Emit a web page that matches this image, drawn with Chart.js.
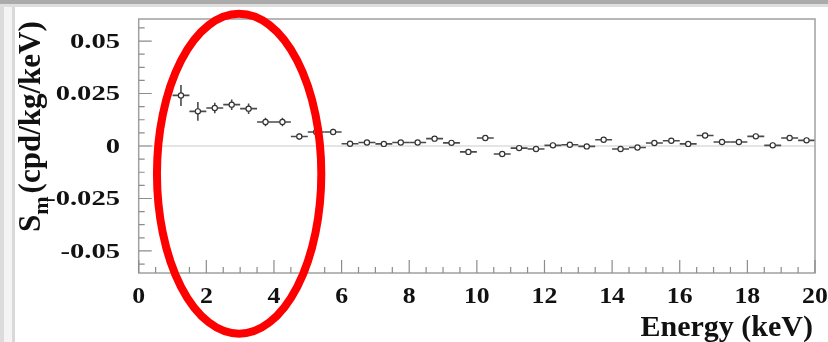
<!DOCTYPE html>
<html>
<head>
<meta charset="utf-8">
<script src="https://cdn.jsdelivr.net/npm/chart.js@4.4.1/dist/chart.umd.min.js"></script>
<style>
  html, body { margin: 0; padding: 0; background: #fff; }
  #wrap { position: relative; width: 828px; height: 342px; overflow: hidden; }
  #wrap canvas { position: absolute; left: 0; top: 0; }
  .edge { position: absolute; }
</style>
</head>
<body>
<div id="wrap">
  <div class="edge" style="left:0;top:0;width:828px;height:4px;background:#ababab"></div>
  <div class="edge" style="left:0;top:4px;width:828px;height:3px;background:#dedede"></div>
  <div class="edge" style="left:0;top:7px;width:4px;height:335px;background:#dcdcdc"></div>
  <div class="edge" style="left:4px;top:7px;width:8px;height:335px;background:#f4f4f4"></div>
  <div class="edge" style="left:12px;top:7px;width:3px;height:335px;background:#d9d9d9"></div>
  <canvas id="chart" width="828" height="342"></canvas>
</div>
<script>
// bin centres (keV), 0.5 keV wide bins
const energy = [1.25, 1.75, 2.25, 2.75, 3.25, 3.75, 4.25, 4.75, 5.25, 5.75,
                6.25, 6.75, 7.25, 7.75, 8.25, 8.75, 9.25, 9.75, 10.25, 10.75,
                11.25, 11.75, 12.25, 12.75, 13.25, 13.75, 14.25, 14.75, 15.25, 15.75,
                16.25, 16.75, 17.25, 17.75, 18.25, 18.75, 19.25, 19.75];
// modulation amplitude Sm (cpd/kg/keV)
const sm = [0.0241, 0.0165, 0.0181, 0.0197, 0.0178, 0.0114, 0.0114, 0.0045, 0.0067, 0.0067,
            0.0011, 0.0017, 0.0010, 0.0017, 0.0017, 0.0035, 0.0015, -0.0028, 0.0038, -0.0038,
            -0.0010, -0.0014, 0.0003, 0.0006, -0.0002, 0.0030, -0.0014, -0.0007, 0.0014, 0.0025,
            0.0010, 0.0050, 0.0019, 0.0019, 0.0046, 0.0003, 0.0038, 0.0027];
const smErr = [0.0050, 0.0045, 0.0025, 0.0025, 0.0025, 0.0020, 0.0020, 0.0015, 0.0015, 0.0015,
               0.0012, 0.0012, 0.0012, 0.0012, 0.0012, 0.0012, 0.0012, 0.0012, 0.0012, 0.0012,
               0.0012, 0.0012, 0.0012, 0.0012, 0.0012, 0.0012, 0.0012, 0.0012, 0.0012, 0.0012,
               0.0012, 0.0012, 0.0012, 0.0012, 0.0012, 0.0012, 0.0012, 0.0012];
const binHalfWidth = 0.25;

const xTicks = [0, 2, 4, 6, 8, 10, 12, 14, 16, 18, 20];
const xTickLabels = ['0', '2', '4', '6', '8', '10', '12', '14', '16', '18', '20'];
const yTicks = [-0.05, -0.025, 0, 0.025, 0.05];
const yTickLabels = ['-0.05', '-0.025', '0', '0.025', '0.05'];

// highlight ring around the low-energy bins (data units)
const ring = { x: 2.97, y: -0.0132, rx: 2.43, ry: 0.0762 };

const serif = '"Liberation Serif", "Times New Roman", serif';

const errorBars = {
  id: 'errorBars',
  beforeDatasetsDraw(chart) {
    const { ctx, scales: { x, y }, chartArea: a } = chart;
    ctx.save();
    // zero line
    ctx.strokeStyle = '#dcdcdc';
    ctx.lineWidth = 1.5;
    ctx.beginPath();
    ctx.moveTo(a.left, y.getPixelForValue(0));
    ctx.lineTo(a.right, y.getPixelForValue(0));
    ctx.stroke();

    ctx.strokeStyle = '#4a4a4a';
    ctx.lineWidth = 1.6;
    energy.forEach((e, i) => {
      const px = x.getPixelForValue(e);
      const py = y.getPixelForValue(sm[i]);
      ctx.beginPath();
      ctx.moveTo(x.getPixelForValue(e - binHalfWidth), py);
      ctx.lineTo(x.getPixelForValue(e + binHalfWidth), py);
      ctx.moveTo(px, y.getPixelForValue(sm[i] + smErr[i]));
      ctx.lineTo(px, y.getPixelForValue(sm[i] - smErr[i]));
      ctx.stroke();
    });
    ctx.restore();
  }
};

const frameAndLabels = {
  id: 'frameAndLabels',
  afterDraw(chart) {
    const { ctx, scales: { x, y }, chartArea: a } = chart;
    ctx.save();

    // frame
    ctx.strokeStyle = '#a0a0a0';
    ctx.lineWidth = 1.5;
    ctx.strokeRect(a.left, a.top, a.right - a.left, a.bottom - a.top);

    // inward ticks
    ctx.strokeStyle = '#8c8c8c';
    ctx.lineWidth = 1.2;
    ctx.beginPath();
    for (let v = 0; v <= 20.001; v += 0.5) {
      const px = x.getPixelForValue(v);
      const len = Math.abs(v % 2) < 1e-6 ? 13 : 6;
      ctx.moveTo(px, a.bottom);
      ctx.lineTo(px, a.bottom - len);
    }
    for (let v = -0.05625; v <= 0.0575; v += 0.00625) {
      const py = y.getPixelForValue(v);
      if (py < a.top || py > a.bottom) continue;
      const major = yTicks.some(t => Math.abs(t - v) < 1e-6);
      ctx.moveTo(a.left, py);
      ctx.lineTo(a.left + (major ? 13 : 6), py);
    }
    ctx.stroke();

    // tick labels
    ctx.fillStyle = '#111';
    ctx.font = 'bold 22px ' + serif;
    ctx.textAlign = 'right';
    ctx.textBaseline = 'middle';
    yTicks.forEach((v, i) => {
      ctx.save();
      ctx.translate(120, y.getPixelForValue(v) + 1);
      ctx.scale(1.3, 1);
      ctx.fillText(yTickLabels[i], 0, 0);
      ctx.restore();
    });
    ctx.font = 'bold 23px ' + serif;
    ctx.textAlign = 'center';
    ctx.textBaseline = 'alphabetic';
    xTicks.forEach((v, i) => {
      ctx.save();
      ctx.translate(x.getPixelForValue(v), 303);
      ctx.scale(1.12, 1);
      ctx.fillText(xTickLabels[i], 0, 0);
      ctx.restore();
    });

    // axis titles
    ctx.font = 'bold 30px ' + serif;
    ctx.textAlign = 'right';
    ctx.fillText('Energy (keV)', 813, 336);

    ctx.save();
    ctx.translate(40, 232);
    ctx.rotate(-Math.PI / 2);
    ctx.textAlign = 'left';
    ctx.font = 'bold 31px ' + serif;
    ctx.fillText('S', 0, 0);
    const wS = ctx.measureText('S').width;
    ctx.font = 'bold 22px ' + serif;
    ctx.fillText('m', wS, 8);
    const wm = ctx.measureText('m').width;
    ctx.font = 'bold 31px ' + serif;
    ctx.fillText('(cpd/kg/keV)', wS + wm + 3, 0);
    ctx.restore();

    // red ring
    const cx = x.getPixelForValue(ring.x);
    const cy = y.getPixelForValue(ring.y);
    const rx = x.getPixelForValue(ring.x + ring.rx) - cx;
    const ry = cy - y.getPixelForValue(ring.y + ring.ry);
    ctx.strokeStyle = '#ff0000';
    ctx.lineWidth = 8;
    ctx.beginPath();
    ctx.ellipse(cx, cy, rx, ry, 0, 0, Math.PI * 2);
    ctx.stroke();

    ctx.restore();
  }
};

new Chart(document.getElementById('chart').getContext('2d'), {
  type: 'scatter',
  data: {
    datasets: [{
      data: energy.map((e, i) => ({ x: e, y: sm[i] })),
      pointRadius: 2.6,
      pointBorderWidth: 1.2,
      pointBorderColor: '#333',
      pointBackgroundColor: '#fff'
    }]
  },
  options: {
    responsive: false,
    animation: false,
    layout: { padding: { left: 0, top: 19, right: 13, bottom: 0 } },
    plugins: { legend: { display: false }, tooltip: { enabled: false } },
    scales: {
      x: {
        type: 'linear', min: 0, max: 20,
        grid: { display: false }, border: { display: false },
        ticks: { display: false },
        afterBuildTicks(s) { s.ticks = xTicks.map(v => ({ value: v })); },
        afterFit(s) { s.height = 69; }
      },
      y: {
        type: 'linear', min: -0.0605, max: 0.0605,
        grid: { display: false }, border: { display: false },
        ticks: { display: false },
        afterBuildTicks(s) { s.ticks = yTicks.map(v => ({ value: v })); },
        afterFit(s) { s.width = 138.7; }
      }
    }
  },
  plugins: [errorBars, frameAndLabels]
});
</script>
</body>
</html>
